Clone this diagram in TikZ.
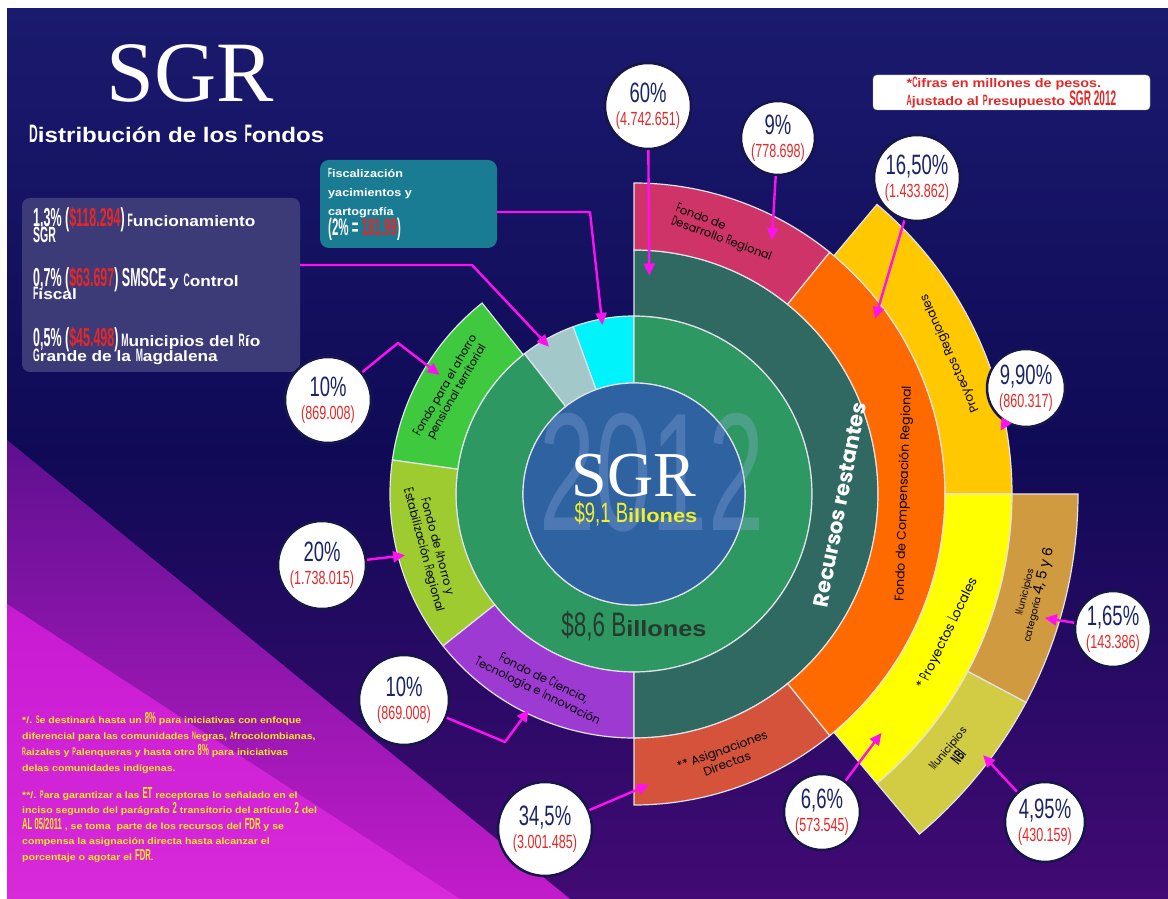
\documentclass[tikz,border=0pt]{standalone}
\usepackage{fontspec}
\usepackage{tikz}
\usetikzlibrary{arrows.meta}

\setmainfont{Liberation Sans}
\newfontfamily\serifft{Liberation Serif}
\newfontfamily\narrowft[FakeStretch=0.66]{Liberation Sans}
\newfontfamily\condft[FakeStretch=0.48]{Liberation Sans}
\newfontfamily\wideft[FakeStretch=1.15]{Liberation Sans}
\newfontfamily\wmft[FakeStretch=0.6]{Liberation Sans}
\newfontfamily\roundft{Poppins}

\definecolor{bgtop}{HTML}{1A1A6E}
\definecolor{bgmid}{HTML}{100A56}
\definecolor{bgbot}{HTML}{420A74}
\definecolor{bandtop}{HTML}{5E1090}
\definecolor{bandbot}{HTML}{C21CCA}
\definecolor{magtop}{HTML}{C81AD2}
\definecolor{magbot}{HTML}{D82ADA}
\definecolor{sgrblue}{HTML}{2F62A0}
\definecolor{ringgreen}{HTML}{2E9862}
\definecolor{restteal}{HTML}{2F6962}
\definecolor{fiscyan}{HTML}{00F2FA}
\definecolor{smsgray}{HTML}{A2C8CA}
\definecolor{pensgreen}{HTML}{3EC93E}
\definecolor{estabgreen}{HTML}{9DCB30}
\definecolor{cienpurple}{HTML}{9C3AD2}
\definecolor{fdrpink}{HTML}{CE3468}
\definecolor{fcrorange}{HTML}{FF6A00}
\definecolor{asigred}{HTML}{D4533A}
\definecolor{regyellow}{HTML}{FFC800}
\definecolor{locyellow}{HTML}{FFFF00}
\definecolor{munitan}{HTML}{D09A40}
\definecolor{nbiolive}{HTML}{D2CC44}
\definecolor{segline}{HTML}{E2E2EA}
\definecolor{arrowmag}{HTML}{FF10F0}
\definecolor{pctblue}{HTML}{1C2468}
\definecolor{amtred}{HTML}{E42828}
\definecolor{bubbleline}{HTML}{16164A}
\definecolor{listbg}{HTML}{3D3A78}
\definecolor{fiscbg}{HTML}{1A7C92}
\definecolor{notey}{HTML}{F2EC1A}
\definecolor{billdark}{HTML}{263A2E}
\definecolor{billyellow}{HTML}{F0F028}
\definecolor{wmblue}{HTML}{9AB8E8}

\makeatletter
\newcommand{\tallc}[1]{{\condft\fontsize{\strip@pt\dimexpr\f@size pt*6/5\relax}{\f@baselineskip}\selectfont #1}}
\makeatother
\newcommand{\wbf}{\wideft\bfseries}
\newcommand{\fsz}[2]{\fontsize{#1}{#2}\selectfont}
\newcommand{\tallnum}[1]{{\condft\fsz{16}{15}#1}}
\newcommand{\bubtxt}[2]{{\narrowft\fsz{28}{23}\color{pctblue}#1}\\{\narrowft\fsz{19}{23}\color{amtred}#2}}

\begin{document}
\begin{tikzpicture}[x=1pt, y=1pt,
    every node/.style={inner sep=0pt},
    bubble/.style={circle, fill=white, draw=bubbleline, line width=2.5pt, align=center, minimum size=#1, font=\fsz{20}{23}},
    pointer/.style={draw=arrowmag, line width=2.4pt, line join=round, -{Triangle[length=12pt, width=11pt]}},
    seglabel/.style={align=center, text=black}]
    \useasboundingbox (0,0) rectangle (1168,899);

    % background
    \fill[white] (0,0) rectangle (1168,899);
    \shade[top color=bgtop, bottom color=bgbot, middle color=bgmid] (7,0) rectangle (1168,890);
    \shade[top color=bandtop, bottom color=bandbot] (7,459) -- (570,0) -- (7,0) -- cycle;
    \shade[top color=magtop, bottom color=magbot] (7,295) -- (460,0) -- (7,0) -- cycle;

    % rings
    \begin{scope}[shift={(634,405)}]
        \foreach \col/\a/\b/\ri/\ro in {fiscyan/90/110/111/178, smsgray/110/128/111/178, ringgreen/128/450/111/178,
                pensgreen/128.5/172/178/244, estabgreen/172/218.5/178/244, cienpurple/218.5/270/178/244,
                restteal/-90/90/178/244, fdrpink/51/90/244/311, fcrorange/-51/51/244/311, asigred/-90/-51/244/311,
                regyellow/0/50/311/378, locyellow/-50/0/311/378, munitan/-28/0/378/444, nbiolive/-50/-28/378/444}
            \filldraw[fill=\col, draw=segline, line width=1.2pt] (\a:\ri) arc[start angle=\a, end angle=\b, radius=\ri]
                -- (\b:\ro) arc[start angle=\b, end angle=\a, radius=\ro] -- cycle;
        \filldraw[fill=sgrblue, draw=segline, line width=1.2pt] (0,0) circle[radius=111];

        % ring labels
        \node[seglabel, align=left, font=\roundft\fsz{11.5}{13}, rotate=-20] (lfdr) at (71:276) {\tallc{F}ondo de\\\tallc{D}esarrollo \tallc{R}egional};
        \node[seglabel, text=white, font=\roundft\bfseries\fsz{21}{21}, rotate=79] (lrest) at (-3:206) {Recursos restantes};
        \node[seglabel, font=\roundft\fsz{12.5}{13}, rotate=88] (lfcr) at (0:270) {Fondo de Compensación Regional};
        \node[seglabel, font=\roundft\fsz{12}{13}, rotate=114] (lreg) at (24:346) {Proyectos Regionales};
        \node[seglabel, font=\roundft\fsz{13}{14}, rotate=64] (lloc) at (-24:343) {* \tallc{P}royectos \tallc{L}ocales};
        \node[seglabel, font=\roundft\fsz{9.5}{12}, rotate=76] (lmun) at (-14:411) {\tallc{M}unicipios\\categoría {\fsz{14}{12}4, 5 y 6}};
        \node[seglabel, font=\roundft\fsz{10.5}{12}, rotate=51] (lnbi) at (-39:411) {\tallc{M}unicipios\\{\condft\bfseries\fsz{16}{12}NBI}};
        \node[seglabel, font=\roundft\fsz{12}{14}, rotate=20] (lasig) at (-71:278) {** Asignaciones\\Directas};
        \node[seglabel, font=\roundft\fsz{11}{13}, rotate=60] (lpens) at (150:211) {\tallc{F}ondo para el ahorro\\pensional territorial};
        \node[seglabel, font=\roundft\fsz{11.5}{14}, rotate=-75] (lestab) at (195:211) {\tallc{F}ondo de \tallc{A}horro y\\\tallc{E}stabilización \tallc{R}egional};
        \node[seglabel, font=\roundft\fsz{11.5}{14}, rotate=-26] (lcien) at (244:213) {\tallc{F}ondo de \tallc{C}iencia,\\\tallc{T}ecnología e \tallc{I}nnovación};

        % arrow targets
        \coordinate (t60) at (86:219);
        \coordinate (t9) at (61.5:289);
        \coordinate (t1650) at (36:298);
        \coordinate (t990) at (9.8:372);
        \coordinate (t165) at (-16.8:429);
        \coordinate (t495) at (-36.8:436);
        \coordinate (t66) at (-44:344);
        \coordinate (t345) at (-87:291);
        \coordinate (t10c) at (244:240);
        \coordinate (t20) at (195:237);
        \coordinate (t10p) at (148.5:228);
        \coordinate (tfisc) at (100.6:172);
        \coordinate (tsms) at (120:170);
    \end{scope}

    % centre
    \node[text=wmblue, text opacity=0.28, anchor=base] (wm) at (652,368) {\wmft\fsz{168}{168}2012};
    \node[text=white, anchor=base] (sgrc) at (634,402) {\serifft\fsz{64}{64}SGR};
    \node[text=billyellow, anchor=base] (bill91) at (636,376) {{\narrowft\fsz{28}{28}\$9,1 B}{\wbf\fsz{19}{19}illones}};
    \node[text=billdark, anchor=base] (bill86) at (634,262) {{\narrowft\fsz{34}{34}\$8,6 B}{\wbf\fsz{22}{22}illones}};

    % title
    \node[text=white] (title) at (190,826) {\serifft\fsz{86}{86}SGR};
    \node[text=white, anchor=base west] (subtitle) at (29,756) {\wbf\fsz{21}{21}\tallc{D}istribución de los \tallc{F}ondos};

    % notes
    \node[fill=white, draw=gray!60, rounded corners=4pt, minimum width=277pt, minimum height=35pt, align=left,
        text=amtred, font=\wbf\fsz{12.5}{15}] (cifras) at (1011.5,806.5)
        {*\tallc{C}ifras en millones de pesos.\\\tallc{A}justado al \tallc{P}resupuesto {\condft\fsz{21}{15}SGR 2012}};
    \node[fill=fiscbg, rounded corners=9pt, minimum width=177pt, minimum height=88pt] (fiscbox) at (408.5,695) {};
    \node[anchor=north west, align=left, text=white, font=\wbf\fsz{11}{19}] (fisctxt) at (328,731)
        {\tallc{F}iscalización\\yacimientos y\\cartografía\\{\condft\bfseries\fsz{24}{20}(2\% = \textcolor{amtred}{181.99})}};
    \node[fill=listbg, rounded corners=8pt, minimum width=278pt, minimum height=174pt] (listbox) at (161,614) {};
    \node[anchor=base west, text=white] (l1a) at (33,672) {{\condft\bfseries\fsz{26}{26}1,3\% (\textcolor{amtred}{\$118.294})} {\wbf\fsz{15}{15}\tallc{F}uncionamiento}};
    \node[anchor=base west, text=white] (l1b) at (33,656) {\condft\bfseries\fsz{22}{22}SGR};
    \node[anchor=base west, text=white] (l2a) at (33,612) {{\condft\bfseries\fsz{26}{26}0,7\% (\textcolor{amtred}{\$63.697}) SMSCE} {\wbf\fsz{15}{15}y \tallc{C}ontrol}};
    \node[anchor=base west, text=white] (l2b) at (33,599) {\wbf\fsz{15}{15}\tallc{F}iscal};
    \node[anchor=base west, text=white] (l3a) at (33,552) {{\condft\bfseries\fsz{26}{26}0,5\% (\textcolor{amtred}{\$45.498})} {\wbf\fsz{15}{15}\tallc{M}unicipios del \tallc{R}ío}};
    \node[anchor=base west, text=white] (l3b) at (33,537) {\wbf\fsz{15}{15}\tallc{G}rande de la \tallc{M}agdalena};

    \node[anchor=north west, align=left, text=notey, font=\wbf\fsz{9.2}{16}] (note1) at (22,187)
        {*/. \tallc{S}e destinará hasta un \tallnum{8\%} para iniciativas con enfoque\\
         diferencial para las comunidades \tallc{N}egras, \tallc{A}frocolombianas,\\
         \tallc{R}aizales y \tallc{P}alenqueras y hasta otro \tallnum{8\%} para iniciativas\\
         delas comunidades indígenas.};
    \node[anchor=north west, align=left, text=notey, font=\wbf\fsz{9.2}{15.5}] (note2) at (22,112)
        {**/. \tallc{P}ara garantizar a las \tallnum{ET} receptoras lo señalado en el\\
         inciso segundo del parágrafo \tallnum{2} transitorio del artículo \tallnum{2} del\\
         \tallnum{AL 05/2011} , se toma \ parte de los recursos del \tallnum{FDR} y se\\
         compensa la asignación directa hasta alcanzar el\\
         porcentaje o agotar el \tallnum{FDR}.};

    % bubbles
    \node[bubble=86pt] (b60) at (648,793) {\bubtxt{60\%}{(4.742.651)}};
    \node[bubble=74pt] (b9) at (778,761) {\bubtxt{9\%}{(778.698)}};
    \node[bubble=86pt] (b1650) at (917,721) {\bubtxt{16,50\%}{(1.433.862)}};
    \node[bubble=78pt] (b990) at (1026,511) {\bubtxt{9,90\%}{(860.317)}};
    \node[bubble=76pt] (b165) at (1113,270) {\bubtxt{1,65\%}{(143.386)}};
    \node[bubble=80pt] (b495) at (1045,77) {\bubtxt{4,95\%}{(430.159)}};
    \node[bubble=76pt] (b66) at (822,87) {\bubtxt{6,6\%}{(573.545)}};
    \node[bubble=94pt] (b345) at (545,70) {\bubtxt{34,5\%}{(3.001.485)}};
    \node[bubble=90pt] (b10c) at (404,199) {\bubtxt{10\%}{(869.008)}};
    \node[bubble=88pt] (b20) at (322,334) {\bubtxt{20\%}{(1.738.015)}};
    \node[bubble=86pt] (b10p) at (328,499) {\bubtxt{10\%}{(869.008)}};

    % arrows
    \coordinate (k10c) at (505,157);
    \coordinate (k10p) at (398,556);
    \coordinate (kfisc) at (590,687);
    \coordinate (ksms) at (472,634);
    \draw[pointer] (b60) -- (t60);
    \draw[pointer] (b9) -- (t9);
    \draw[pointer] (b1650) -- (t1650);
    \draw[pointer] (b990) -- (t990);
    \draw[pointer] (b165) -- (t165);
    \draw[pointer] (b495) -- (t495);
    \draw[pointer] (b66) -- (t66);
    \draw[pointer] (b345) -- (t345);
    \draw[pointer] (b20) -- (t20);
    \draw[pointer] (b10c) -- (k10c) -- (t10c);
    \draw[pointer] (b10p) -- (k10p) -- (t10p);
    \draw[pointer] (fiscbox.east |- kfisc) -- (kfisc) -- (tfisc);
    \draw[pointer] (listbox.east |- ksms) -- (ksms) -- (tsms);
\end{tikzpicture}
\end{document}
